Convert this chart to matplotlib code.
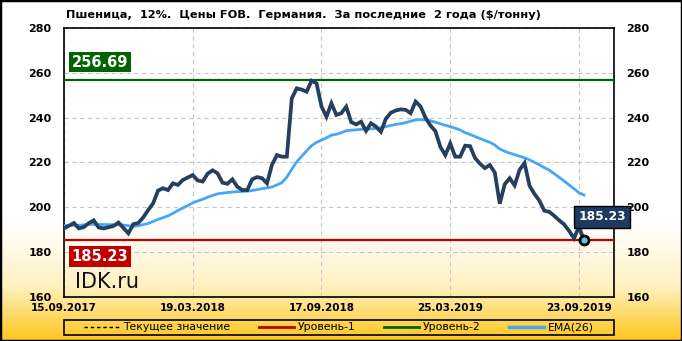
import matplotlib
matplotlib.use("Agg")
import matplotlib.pyplot as plt
import numpy as np
from matplotlib.colors import LinearSegmentedColormap
from matplotlib.lines import Line2D
from matplotlib.patches import Rectangle

# weekly FOB prices, 15.09.2017 .. 23.09.2019 ($/t)
price = [
    190.6, 191.8, 193.0, 190.6, 191.2, 192.9, 194.2, 191.0, 190.6, 191.1,
    191.7, 193.2, 190.8, 188.4, 192.5, 193.0, 195.5, 198.8, 201.8, 207.5,
    208.5, 207.7, 210.7, 210.0, 212.2, 213.3, 214.4, 212.0, 211.5, 215.0,
    216.5, 215.2, 211.0, 210.5, 212.5, 209.2, 207.7, 207.7, 212.5, 213.5,
    213.0, 210.7, 219.0, 223.3, 222.6, 222.6, 248.6, 253.1, 252.5, 251.6,
    256.5, 255.3, 245.0, 240.4, 246.4, 241.2, 242.0, 244.9, 238.0, 237.0,
    238.2, 234.1, 237.5, 236.0, 233.7, 239.5, 242.2, 243.2, 243.7, 243.5,
    242.0, 247.2, 245.0, 240.0, 236.5, 234.0, 227.0, 223.3, 228.5, 222.6,
    222.6, 227.5, 227.3, 222.0, 219.5, 217.5, 218.9, 215.5, 201.6, 210.3,
    213.0, 209.8, 216.7, 219.8, 209.7, 206.0, 203.0, 198.5, 198.0, 196.2,
    194.2, 192.4, 189.5, 186.2, 191.4, 185.23,
]
ema26 = [
    191.8, 191.9, 192.0, 192.0, 192.2, 192.4, 192.4, 192.4, 192.3, 192.3,
    192.2, 192.2, 192.1, 191.8, 191.5, 191.8, 192.3, 192.8, 193.7, 194.6,
    195.4, 196.2, 197.3, 198.6, 199.7, 200.8, 202.0, 202.8, 203.6, 204.5,
    205.3, 206.0, 206.3, 206.6, 206.8, 207.0, 207.1, 207.2, 207.5, 207.9,
    208.3, 208.7, 209.1, 210.0, 211.0, 213.5, 217.0, 220.3, 222.8, 225.2,
    227.5, 229.0, 230.0, 231.0, 232.2, 232.6, 233.3, 234.2, 234.4, 234.6,
    234.8, 234.9, 235.0, 235.2, 235.5, 236.0, 236.5, 237.0, 237.3, 237.8,
    238.4, 239.0, 239.1, 239.0, 238.6, 238.0, 237.3, 236.6, 236.0, 235.3,
    234.5, 233.3, 232.5, 231.6, 230.7, 229.8, 229.0, 227.8, 226.0, 225.0,
    224.2, 223.5, 222.8, 222.1, 221.2, 220.1, 219.0, 217.7, 216.6, 215.0,
    213.4, 211.7, 210.0, 208.3, 206.5, 205.5,
]
date_ticks = [0, 26, 52, 78, 104]
date_labels = ["15.09.2017", "19.03.2018", "17.09.2018", "25.03.2019", "23.09.2019"]
level1 = 185.23
level2 = 256.69
current = 185.23
title = "Пшеница,  12%.  Цены FOB.  Германия.  За последние  2 года ($/тонну)"

DARK = "#243f60"
BLUE = "#47a6f5"
GREEN = "#006400"
RED = "#c00000"

fig = plt.figure(figsize=(6.82, 3.41), dpi=100)

# background gradient white -> orange-yellow
bg = fig.add_axes([0, 0, 1, 1], zorder=-5)
cmap = LinearSegmentedColormap.from_list(
    "bg", [(0, "#ffffff"), (0.66, "#ffffff"), (0.84, "#fff1c2"), (1.0, "#ffc61a")])
grad = np.linspace(0, 1, 256).reshape(-1, 1)
bg.imshow(grad, aspect="auto", cmap=cmap, extent=[0, 1, 0, 1], origin="upper")
bg.axis("off")
fig.patches.append(Rectangle((0, 0), 1, 1, transform=fig.transFigure,
                             fill=False, ec="black", lw=2.5))

ax = fig.add_axes([64 / 682, 44 / 341, 550 / 682, 269 / 341])
ax.patch.set_alpha(0)
x = np.arange(len(price))

ax.axhline(level2, color=GREEN, lw=1.6, zorder=3)
ax.axhline(level1, color=RED, lw=1.6, zorder=3)
ax.plot(x[:len(ema26)], ema26, color=BLUE, lw=2.0, zorder=4)
ax.plot(x, price, color=DARK, lw=2.7, zorder=5, solid_joinstyle="miter")
ax.plot(x[-1], price[-1], "o", ms=6.5, mfc="#6cc4dc", mec="black", mew=2, zorder=6)

ax.set_xlim(0, 111.07)
ax.set_ylim(160, 280)
ax.set_yticks(np.arange(160, 281, 20))
ax.set_xticks(date_ticks)
ax.set_xticklabels(date_labels)
ax.grid(True, color="#c8c8c8", ls=(0, (4, 3)), lw=0.8)
ax.set_axisbelow(True)
for s in ax.spines.values():
    s.set_linewidth(1.2)
ax.tick_params(length=0, labelsize=8, pad=9)
ax.tick_params(axis="y", right=True, labelright=True)
ax.tick_params(axis="x", labelsize=7.5, pad=4)
for lab in ax.get_xticklabels() + ax.get_yticklabels():
    lab.set_fontweight("bold")

box = dict(boxstyle="square,pad=0.18", ec="none")
ax.annotate(f"{level2:.2f}", xy=(0, level2), xycoords=("axes fraction", "data"),
            xytext=(5.5, 13), textcoords="offset points", ha="left", va="center",
            color="white", fontsize=10.5, fontweight="bold",
            bbox={**box, "fc": GREEN}, zorder=7)
ax.annotate(f"{level1:.2f}", xy=(0, level1), xycoords=("axes fraction", "data"),
            xytext=(5.5, -11.5), textcoords="offset points", ha="left", va="center",
            color="white", fontsize=10.5, fontweight="bold",
            bbox={**box, "fc": RED}, zorder=7)
ax.annotate(f"{current:.2f}", xy=(x[-1], current), xytext=(13, 17),
            textcoords="offset points", ha="center", va="center",
            color="white", fontsize=8.8, fontweight="bold",
            bbox=dict(boxstyle="square,pad=0.35", fc="#1f3a5f", ec="black", lw=1),
            zorder=8, annotation_clip=False)

ax.text(0.02, 0.055, "IDK.ru", transform=ax.transAxes, fontsize=15,
        ha="left", va="center", color="#111111")

fig.text(66 / 682, 1 - 15 / 341, title, fontsize=8.2, fontweight="bold",
         ha="left", va="center")

handles = [
    Line2D([], [], color="black", ls=(0, (2.5, 2)), lw=1),
    Line2D([], [], color=RED, lw=2),
    Line2D([], [], color=GREEN, lw=2),
    Line2D([], [], color=BLUE, lw=2.5),
]
names = ["Текущее значение", "Уровень-1", "Уровень-2", "EMA(26)"]
leg = fig.legend(handles, names, loc="center", ncol=4,
                 bbox_to_anchor=(339 / 682, 1 - 327.5 / 341),
                 fontsize=7.8, frameon=False, handlelength=3.3,
                 handletextpad=0.3, columnspacing=2.6, borderaxespad=0)
fig.patches.append(Rectangle((64 / 682, 6 / 341), 550 / 682, 15 / 341,
                             transform=fig.transFigure, fill=False,
                             ec="black", lw=1.2))

fig.savefig("out.png", dpi=100)
